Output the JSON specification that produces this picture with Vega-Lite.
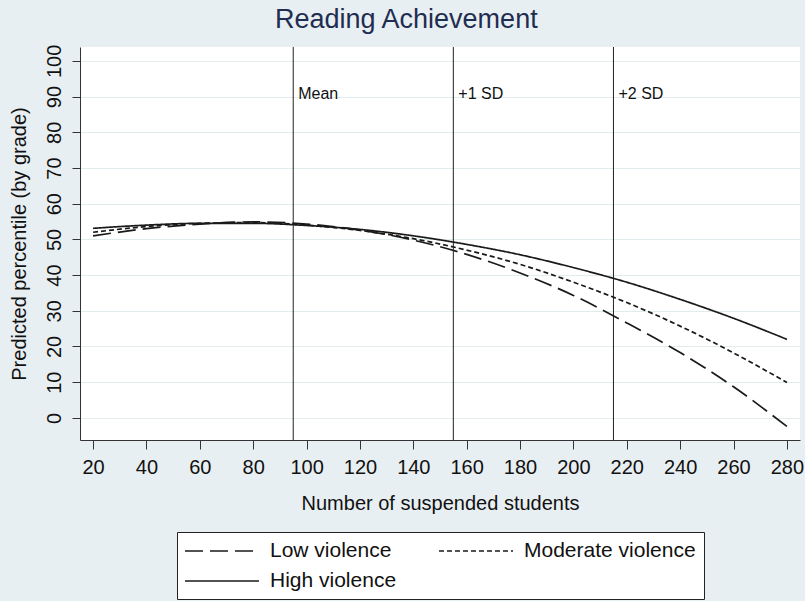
{
  "$schema": "https://vega.github.io/schema/vega-lite/v6.json",
  "width": 720,
  "height": 393,
  "autosize": {"type": "none"},
  "padding": {"left": 80, "top": 47, "right": 5, "bottom": 161},
  "background": "#e8eff2",
  "title": {
    "text": "Reading Achievement",
    "fontSize": 27,
    "font": "Liberation Sans",
    "fontWeight": "normal",
    "color": "#1f2d50",
    "frame": "bounds",
    "anchor": "middle",
    "offset": 10
  },
  "config": {
    "view": {"stroke": null, "fill": "white"},
    "font": "Liberation Sans",
    "axis": {
      "domainColor": "#333333",
      "tickColor": "#333333",
      "labelColor": "#111111",
      "titleColor": "#111111",
      "labelFont": "Liberation Sans",
      "titleFont": "Liberation Sans",
      "titleFontWeight": "normal",
      "labelFontSize": 20,
      "titleFontSize": 20,
      "tickSize": 8,
      "gridColor": "#e2ebee",
      "gridOpacity": 1,
      "labelOverlap": false
    },
    "legend": {
      "labelFont": "Liberation Sans",
      "labelFontSize": 21,
      "labelColor": "#111111",
      "labelLimit": 0,
      "layout": {"bottom": {"anchor": "middle", "bounds": "flush"}}
    }
  },
  "datasets": {
    "curves": [
      {"students": 20, "percentile": 51.0, "group": "Low violence"},
      {"students": 40, "percentile": 53.0, "group": "Low violence"},
      {"students": 60, "percentile": 54.3, "group": "Low violence"},
      {"students": 80, "percentile": 54.9, "group": "Low violence"},
      {"students": 100, "percentile": 54.3, "group": "Low violence"},
      {"students": 120, "percentile": 52.6, "group": "Low violence"},
      {"students": 140, "percentile": 49.8, "group": "Low violence"},
      {"students": 160, "percentile": 45.8, "group": "Low violence"},
      {"students": 180, "percentile": 40.6, "group": "Low violence"},
      {"students": 200, "percentile": 34.3, "group": "Low violence"},
      {"students": 220, "percentile": 26.6, "group": "Low violence"},
      {"students": 240, "percentile": 18.3, "group": "Low violence"},
      {"students": 260, "percentile": 8.7, "group": "Low violence"},
      {"students": 280, "percentile": -2.4, "group": "Low violence"},
      {"students": 20, "percentile": 52.0, "group": "Moderate violence"},
      {"students": 40, "percentile": 53.6, "group": "Moderate violence"},
      {"students": 60, "percentile": 54.5, "group": "Moderate violence"},
      {"students": 80, "percentile": 54.7, "group": "Moderate violence"},
      {"students": 100, "percentile": 54.0, "group": "Moderate violence"},
      {"students": 120, "percentile": 52.5, "group": "Moderate violence"},
      {"students": 140, "percentile": 50.2, "group": "Moderate violence"},
      {"students": 160, "percentile": 47.0, "group": "Moderate violence"},
      {"students": 180, "percentile": 43.0, "group": "Moderate violence"},
      {"students": 200, "percentile": 38.0, "group": "Moderate violence"},
      {"students": 220, "percentile": 32.3, "group": "Moderate violence"},
      {"students": 240, "percentile": 25.7, "group": "Moderate violence"},
      {"students": 260, "percentile": 18.2, "group": "Moderate violence"},
      {"students": 280, "percentile": 9.9, "group": "Moderate violence"},
      {"students": 20, "percentile": 53.1, "group": "High violence"},
      {"students": 40, "percentile": 54.0, "group": "High violence"},
      {"students": 60, "percentile": 54.5, "group": "High violence"},
      {"students": 80, "percentile": 54.5, "group": "High violence"},
      {"students": 100, "percentile": 53.9, "group": "High violence"},
      {"students": 120, "percentile": 52.8, "group": "High violence"},
      {"students": 140, "percentile": 51.0, "group": "High violence"},
      {"students": 160, "percentile": 48.6, "group": "High violence"},
      {"students": 180, "percentile": 45.7, "group": "High violence"},
      {"students": 200, "percentile": 42.1, "group": "High violence"},
      {"students": 220, "percentile": 38.0, "group": "High violence"},
      {"students": 240, "percentile": 33.2, "group": "High violence"},
      {"students": 260, "percentile": 27.9, "group": "High violence"},
      {"students": 280, "percentile": 22.0, "group": "High violence"}
    ],
    "refs": [
      {"students": 95, "label": "Mean"},
      {"students": 155, "label": "+1 SD"},
      {"students": 215, "label": "+2 SD"}
    ]
  },
  "encoding": {
    "y": {
      "type": "quantitative",
      "scale": {"domain": [-6.2, 103.9], "nice": false, "zero": false},
      "axis": {
        "title": "Predicted percentile (by grade)",
        "values": [0, 10, 20, 30, 40, 50, 60, 70, 80, 90, 100],
        "grid": true,
        "labelAngle": 270,
        "labelPadding": 8,
        "titlePadding": 15,
        "labelOverlap": false,
        "labelSeparation": 0
      }
    }
  },
  "layer": [
    {
      "data": {"name": "curves"},
      "mark": {"type": "line", "color": "#1a1a1a", "strokeWidth": 1.7, "interpolate": "monotone"},
      "encoding": {
        "x": {
          "field": "students",
          "type": "quantitative",
          "scale": {"domain": [15.1, 284.9], "nice": false, "zero": false},
          "axis": {
            "title": "Number of suspended students",
            "values": [20, 40, 60, 80, 100, 120, 140, 160, 180, 200, 220, 240, 260, 280],
            "grid": false,
            "tickSize": 9,
            "labelPadding": 8,
            "titlePadding": 16,
            "labelOverlap": false
          }
        },
        "y": {"field": "percentile"},
        "strokeDash": {
          "field": "group",
          "type": "nominal",
          "scale": {
            "domain": ["Low violence", "Moderate violence", "High violence"],
            "range": [[18, 7], [5, 3], [1, 0]]
          },
          "legend": {
            "title": null,
            "orient": "bottom",
            "direction": "horizontal",
            "columns": 2,
            "symbolType": "M-3.7,0H3.7",
            "symbolSize": 400,
            "symbolStrokeWidth": 1.7,
            "symbolStrokeColor": "#1a1a1a",
            "symbolFillColor": "transparent",
            "symbolOffset": 26,
            "labelOffset": 37,
            "columnPadding": 38,
            "rowPadding": 9,
            "padding": 8,
            "fillColor": "white",
            "strokeColor": "#222222",
            "offset": 19
          }
        }
      }
    },
    {
      "data": {"name": "refs"},
      "mark": {"type": "rule", "color": "#222222", "strokeWidth": 1},
      "encoding": {
        "x": {"field": "students", "type": "quantitative"},
        "y": null
      }
    },
    {
      "data": {"name": "refs"},
      "mark": {"type": "text", "align": "left", "baseline": "alphabetic", "dx": 5, "fontSize": 16, "color": "#111111", "font": "Liberation Sans"},
      "encoding": {
        "x": {"field": "students", "type": "quantitative"},
        "y": {"datum": 89.4},
        "text": {"field": "label"}
      }
    }
  ]
}
